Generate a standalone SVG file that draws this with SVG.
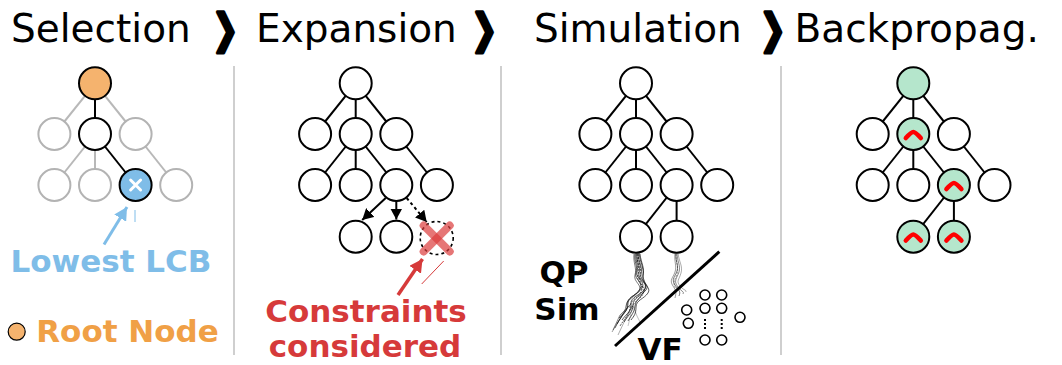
<svg xmlns="http://www.w3.org/2000/svg" width="1062" height="365" viewBox="0 0 1062 365">
<style>
.title{font-family:"DejaVu Sans",sans-serif;font-size:39px;fill:#000}
.chev{font-family:"DejaVu Sans",sans-serif;font-size:39px;fill:#000;stroke:#000;stroke-width:3.2;stroke-linejoin:round}
.lbl{font-family:"DejaVu Sans",sans-serif;font-size:31px;font-weight:bold;text-anchor:middle}
.n{fill:#fff;stroke:#000;stroke-width:2}
.ng{fill:#fff;stroke:#b3b3b3;stroke-width:2}
.e{stroke:#000;stroke-width:2;fill:none}
.eg{stroke:#b8b8b8;stroke-width:2;fill:none}
.sep{stroke:#cfcfcf;stroke-width:2}
.tr{fill:none;stroke:#111;stroke-width:0.7}
.sc{fill:#fff;stroke:#000;stroke-width:1.6}
.hat{fill:none;stroke:#ff0000;stroke-width:4.5;stroke-linecap:round;stroke-linejoin:round}
</style>
<defs>
<marker id="ah" markerUnits="userSpaceOnUse" markerWidth="12" markerHeight="12" refX="11" refY="6" orient="auto">
<path d="M0,0 L11,6 L0,12 z" fill="#000"/>
</marker>
<marker id="ahb" markerUnits="userSpaceOnUse" markerWidth="14" markerHeight="14" refX="13" refY="7" orient="auto">
<path d="M0,0 L13,7 L0,14 z" fill="#7fbde8"/>
</marker>
<marker id="ahr" markerUnits="userSpaceOnUse" markerWidth="14" markerHeight="14" refX="13" refY="7" orient="auto">
<path d="M0,0 L13,7 L0,14 z" fill="#d63a3a"/>
</marker>
</defs>

<g id="titles">
<text class="title" x="11" y="41.5">Selection</text>
<text class="chev" transform="translate(212.5,43) scale(0.78,1.05)">❯</text>
<text class="title" x="256" y="41.5">Expansion</text>
<text class="chev" transform="translate(471.5,43) scale(0.78,1.05)">❯</text>
<text class="title" x="534" y="41.5">Simulation</text>
<text class="chev" transform="translate(760,43) scale(0.78,1.05)">❯</text>
<text class="title" x="794.5" y="41.5">Backpropag.</text>
</g>

<g id="separators">
<line class="sep" x1="234" y1="66" x2="234" y2="355"/>
<line class="sep" x1="501" y1="66" x2="501" y2="355"/>
<line class="sep" x1="781" y1="66" x2="781" y2="355"/>
</g>

<g id="connectors">
<g transform="translate(95,0)">
<line class="eg" x1="0" y1="83.3" x2="-40.6" y2="134"/>
<line class="eg" x1="0" y1="83.3" x2="40.6" y2="134"/>
<line class="e" x1="0" y1="83.3" x2="0" y2="134"/>
<line class="eg" x1="0" y1="134" x2="-40.6" y2="185"/>
<line class="eg" x1="0" y1="134" x2="0" y2="185"/>
<line class="e" x1="0" y1="134" x2="40.6" y2="185"/>
<line class="eg" x1="40.6" y1="134" x2="81.2" y2="185"/>
</g>
<g transform="translate(355.7,0)">
<line class="e" x1="0" y1="83.3" x2="-40.6" y2="134"/>
<line class="e" x1="0" y1="83.3" x2="40.6" y2="134"/>
<line class="e" x1="0" y1="83.3" x2="0" y2="134"/>
<line class="e" x1="0" y1="134" x2="-40.6" y2="185"/>
<line class="e" x1="0" y1="134" x2="0" y2="185"/>
<line class="e" x1="0" y1="134" x2="40.6" y2="185"/>
<line class="e" x1="40.6" y1="134" x2="81.2" y2="185"/>
<line class="e" x1="30" y1="198" x2="6.5" y2="220" marker-end="url(#ah)"/>
<line class="e" x1="40.6" y1="201" x2="40.6" y2="219.5" marker-end="url(#ah)"/>
<line class="e" x1="51" y1="198" x2="71" y2="222" stroke-dasharray="3,3" marker-end="url(#ah)"/>
</g>
<g transform="translate(636,0)">
<line class="e" x1="0" y1="83.3" x2="-40.6" y2="134"/>
<line class="e" x1="0" y1="83.3" x2="40.6" y2="134"/>
<line class="e" x1="0" y1="83.3" x2="0" y2="134"/>
<line class="e" x1="0" y1="134" x2="-40.6" y2="185"/>
<line class="e" x1="0" y1="134" x2="0" y2="185"/>
<line class="e" x1="0" y1="134" x2="40.6" y2="185"/>
<line class="e" x1="40.6" y1="134" x2="81.2" y2="185"/>
<line class="e" x1="40.6" y1="185" x2="0" y2="236.7"/>
<line class="e" x1="40.6" y1="185" x2="40.6" y2="236.7"/>
</g>
<g transform="translate(913.3,0)">
<line class="e" x1="0" y1="83.3" x2="-40.6" y2="134"/>
<line class="e" x1="0" y1="83.3" x2="40.6" y2="134"/>
<line class="e" x1="0" y1="83.3" x2="0" y2="134"/>
<line class="e" x1="0" y1="134" x2="-40.6" y2="185"/>
<line class="e" x1="0" y1="134" x2="0" y2="185"/>
<line class="e" x1="0" y1="134" x2="40.6" y2="185"/>
<line class="e" x1="40.6" y1="134" x2="81.2" y2="185"/>
<line class="e" x1="40.6" y1="185" x2="0" y2="236.7"/>
<line class="e" x1="40.6" y1="185" x2="40.6" y2="236.7"/>
</g>
<line x1="104" y1="244.5" x2="127" y2="207" stroke="#7fbde8" stroke-width="3" marker-end="url(#ahb)"/>
<line x1="135" y1="210" x2="135" y2="222" stroke="#7fbde8" stroke-width="1"/>
<line x1="398" y1="295" x2="422.5" y2="259" stroke="#d63a3a" stroke-width="3.5" marker-end="url(#ahr)"/>
<line x1="421.7" y1="284" x2="443.7" y2="261" stroke="#d63a3a" stroke-width="1"/>
</g>

<g id="selection-tree" transform="translate(95,0)">
<circle class="ng" cx="-40.6" cy="134" r="16"/>
<circle class="ng" cx="40.6" cy="134" r="16"/>
<circle class="ng" cx="-40.6" cy="185" r="16"/>
<circle class="ng" cx="0" cy="185" r="16"/>
<circle class="ng" cx="81.2" cy="185" r="16"/>
<circle class="n" cx="0" cy="134" r="16"/>
<circle class="n" cx="0" cy="83.3" r="16" style="fill:#f5b36e"/>
<g id="lowest-lcb-node">
<circle class="n" cx="40.6" cy="185" r="16" style="fill:#7fbde8"/>
<path d="M35.6 180 L45.6 190 M45.6 180 L35.6 190" stroke="#fff" stroke-width="3" stroke-linecap="round"/>
</g>
</g>

<g id="expansion-tree" transform="translate(355.7,0)">
<circle class="n" cx="0" cy="83.3" r="16"/>
<circle class="n" cx="-40.6" cy="134" r="16"/>
<circle class="n" cx="0" cy="134" r="16"/>
<circle class="n" cx="40.6" cy="134" r="16"/>
<circle class="n" cx="-40.6" cy="185" r="16"/>
<circle class="n" cx="0" cy="185" r="16"/>
<circle class="n" cx="40.6" cy="185" r="16"/>
<circle class="n" cx="81.2" cy="185" r="16"/>
<circle class="n" cx="0" cy="236.7" r="16"/>
<circle class="n" cx="40.6" cy="236.7" r="16"/>
<g id="rejected-node">
<circle cx="81" cy="238" r="16.5" fill="none" stroke="#000" stroke-width="1.6" stroke-dasharray="3,3"/>
<path d="M68 225.5 L94 251.5" stroke="#dc3c3c" stroke-opacity="0.7" stroke-width="8" stroke-linecap="round"/>
<path d="M94 225.5 L68 251.5" stroke="#dc3c3c" stroke-opacity="0.7" stroke-width="8" stroke-linecap="round"/>
</g>
</g>

<g id="simulation-tree" transform="translate(636,0)">
<circle class="n" cx="0" cy="83.3" r="16"/>
<circle class="n" cx="-40.6" cy="134" r="16"/>
<circle class="n" cx="0" cy="134" r="16"/>
<circle class="n" cx="40.6" cy="134" r="16"/>
<circle class="n" cx="-40.6" cy="185" r="16"/>
<circle class="n" cx="0" cy="185" r="16"/>
<circle class="n" cx="40.6" cy="185" r="16"/>
<circle class="n" cx="81.2" cy="185" r="16"/>
<circle class="n" cx="0" cy="236.7" r="16"/>
<circle class="n" cx="40.6" cy="236.7" r="16"/>
</g>

<g id="trajectories">
<path class="tr" d="M637 253 C636 262 641 266 639 273 S649 283 645 289 S630 297 631 304 S627 313 622 320"/>
<path class="tr" d="M638 253 C638 262 643 267 641 274 S651 284 646 290 S633 298 633 305 S629 314 624 322"/>
<path class="tr" d="M636 253 C635 261 639 266 637 272 S646 281 642 288 S628 296 628 303 S625 311 619 318"/>
<path class="tr" d="M639 253 C640 262 644 268 643 274 S648 283 644 291 S636 299 635 306 S632 314 628 321"/>
<path class="tr" d="M635 254 C634 262 638 266 636 273 S644 282 640 289 S626 298 627 305 S623 312 617 324"/>
<path class="tr" d="M640 254 C641 263 645 268 643 276 S652 287 648 293 S636 300 636 307 S634 316 631 320"/>
<path class="tr" d="M637 254 C637 263 640 268 638 275 S645 285 641 292 S630 300 630 307 S627 315 620 326" stroke-dasharray="2,1"/>
<path class="tr" d="M638 254 C639 264 642 270 640 277 S647 287 643 294 S632 302 632 309" stroke-dasharray="2,1"/>
<path class="tr" d="M634 254 C633 263 637 268 635 275 S643 285 639 291 S627 299 626 306 S621 316 615 328" opacity="0.8"/>
<path class="tr" d="M631 304 L620 315 L613 330" opacity="0.7"/>
<path class="tr" d="M629 306 L618 322 L612 332" opacity="0.6"/>
<path class="tr" d="M632 306 L626 318 L618 335" opacity="0.5"/>
<path class="tr" d="M633 306 L637 316 L640 322" opacity="0.4"/>
<path class="tr" d="M632 307 L630 318 L628 326" opacity="0.35"/>
<path class="tr" d="M676 253 C675 261 679 265 677 271 S671 279 675 285 S681 291 679 296" opacity="0.8"/>
<path class="tr" d="M677 253 C677 261 681 266 679 272 S673 281 678 287 S684 291 683 294" opacity="0.7"/>
<path class="tr" d="M675 253 C674 262 677 266 675 272 S669 280 673 286 S676 293 675 298" opacity="0.6"/>
<path class="tr" d="M678 253 C679 262 683 266 681 273 S676 281 680 286 S686 289 686 292" opacity="0.5"/>
<path class="tr" d="M676 254 C676 263 679 268 677 274 S672 283 676 289" opacity="0.6" stroke-dasharray="2,1"/>
</g>

<g id="divider">
<line x1="615" y1="346" x2="719.3" y2="251.7" stroke="#000" stroke-width="3"/>
</g>

<g id="vf-network">
<circle class="sc" cx="705" cy="295" r="5"/>
<circle class="sc" cx="721.7" cy="295" r="5"/>
<circle class="sc" cx="686.7" cy="310" r="5"/>
<circle class="sc" cx="705" cy="308.3" r="5"/>
<circle class="sc" cx="721.7" cy="308.3" r="5"/>
<circle class="sc" cx="740" cy="317.3" r="5"/>
<circle class="sc" cx="688.3" cy="323.3" r="5"/>
<line x1="705" y1="319" x2="705" y2="331" stroke="#000" stroke-width="2" stroke-dasharray="2,2"/>
<line x1="721.7" y1="319" x2="721.7" y2="331" stroke="#000" stroke-width="2" stroke-dasharray="2,2"/>
<circle class="sc" cx="705" cy="340" r="5"/>
<circle class="sc" cx="721.7" cy="340" r="5"/>
</g>

<g id="backprop-tree" transform="translate(913.3,0)">
<circle class="n" cx="0" cy="83.3" r="16" style="fill:#b5e6cc"/>
<circle class="n" cx="-40.6" cy="134" r="16"/>
<circle class="n" cx="0" cy="134" r="16" style="fill:#b5e6cc"/>
<circle class="n" cx="40.6" cy="134" r="16"/>
<circle class="n" cx="-40.6" cy="185" r="16"/>
<circle class="n" cx="0" cy="185" r="16"/>
<circle class="n" cx="40.6" cy="185" r="16" style="fill:#b5e6cc"/>
<circle class="n" cx="81.2" cy="185" r="16"/>
<circle class="n" cx="0" cy="236.7" r="16" style="fill:#b5e6cc"/>
<circle class="n" cx="40.6" cy="236.7" r="16" style="fill:#b5e6cc"/>
<path class="hat" d="M-7.5 138 Q-2 132 0 132 Q2 132 7.5 138"/>
<path class="hat" d="M33.1 189 Q38.6 183 40.6 183 Q42.6 183 48.1 189"/>
<path class="hat" d="M-7.5 240.5 Q-2 234.5 0 234.5 Q2 234.5 7.5 240.5"/>
<path class="hat" d="M33.1 240.5 Q38.6 234.5 40.6 234.5 Q42.6 234.5 48.1 240.5"/>
</g>

<g id="labels">
<text class="lbl" x="111" y="271.7" fill="#7fbde8">Lowest LCB</text>
<circle cx="16.7" cy="331.7" r="8.5" fill="#f5b36e" stroke="#000" stroke-width="1.2"/>
<text class="lbl" x="127.5" y="341.7" fill="#f0a046">Root Node</text>
<text class="lbl" x="366" y="321.5" fill="#d63a3a">Constraints</text>
<text class="lbl" x="365" y="356.7" fill="#d63a3a">considered</text>
<text class="lbl" x="564" y="283.3" fill="#000">QP</text>
<text class="lbl" x="567" y="320" fill="#000">Sim</text>
<text class="lbl" x="660" y="359.5" fill="#000">VF</text>
</g>
</svg>
